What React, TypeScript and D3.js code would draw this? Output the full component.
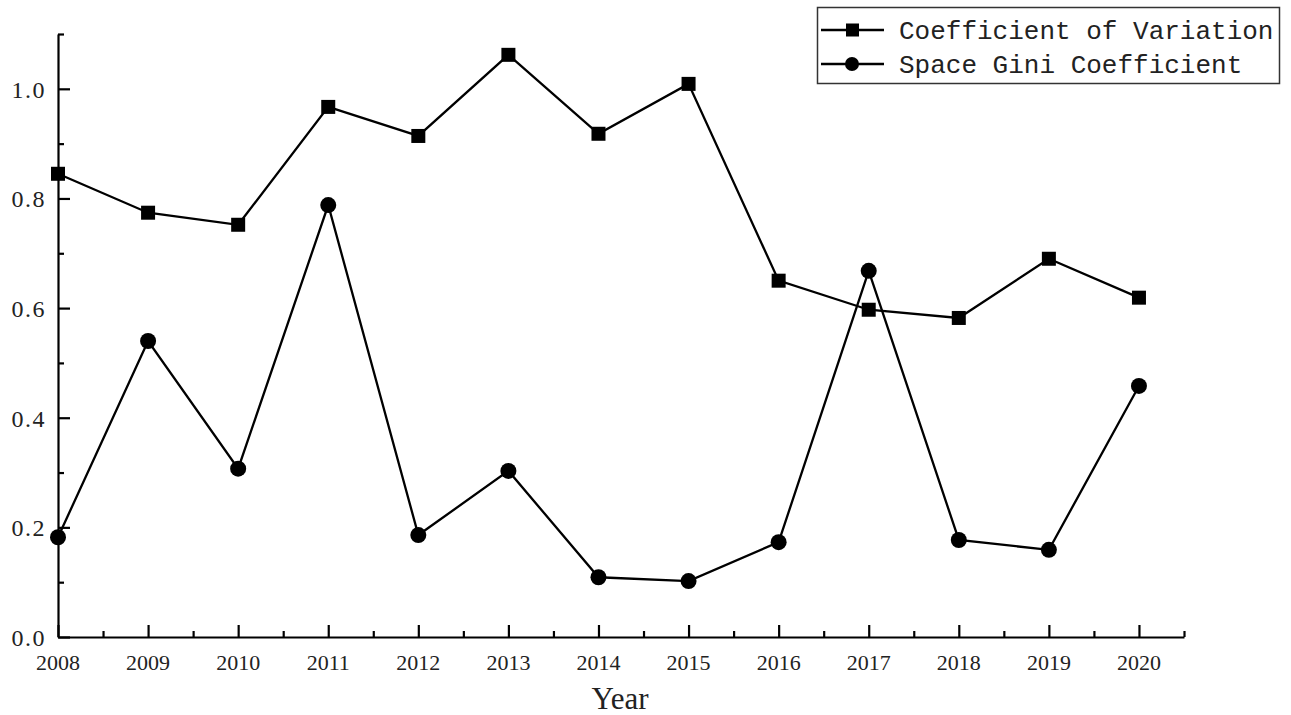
import * as React from 'react'
import { useEffect, useRef } from 'react'
import * as d3 from 'd3'

const years = [2008, 2009, 2010, 2011, 2012, 2013, 2014, 2015, 2016, 2017, 2018, 2019, 2020]
const cvValues = [0.845, 0.774, 0.752, 0.967, 0.914, 1.062, 0.918, 1.009, 0.650, 0.597, 0.582, 0.690, 0.619]
const giniValues = [0.182, 0.540, 0.307, 0.788, 0.186, 0.303, 0.109, 0.102, 0.173, 0.668, 0.177, 0.159, 0.458]
const yTicks = [0, 0.2, 0.4, 0.6, 0.8, 1.0]
const seriesNames = ['Coefficient of Variation', 'Space Gini Coefficient']

const width = 1291
const height = 715

const App = () => {
  const chartRef = useRef<SVGSVGElement>(null)

  useEffect(() => {
    const svg = d3.select(chartRef.current)
    svg.selectAll('*').remove()

    const xScale = d3.scaleLinear().domain([2008, 2020.5]).range([58, 1184])
    const yScale = d3.scaleLinear().domain([0, 1.1]).range([637, 34])

    const monoFont = '"Liberation Mono", "DejaVu Sans Mono", monospace'
    const serifFont = '"Liberation Serif", serif'

    // y axis, ticks inward
    const yAxis = d3.axisRight(yScale)
      .tickValues(d3.range(0, 1.1001, 0.1))
      .tickSize(0)
      .tickFormat(() => '')
    const yg = svg.append('g').attr('transform', 'translate(58,0)').call(yAxis)
    yg.select('.domain').attr('stroke', '#000').attr('stroke-width', 2.2)
    yg.selectAll('.tick line')
      .attr('stroke', '#000').attr('stroke-width', 2.2)
      .attr('x2', (d: any) => (Math.round(d * 10) % 2 === 0 ? 12 : 6))

    svg.append('g').selectAll('text')
      .data(yTicks)
      .enter()
      .append('text')
      .attr('x', 46)
      .attr('y', d => yScale(d) + 9)
      .attr('text-anchor', 'end')
      .style('font-family', serifFont)
      .style('font-size', '24px')
      .style('letter-spacing', '1.5px')
      .attr('fill', '#222')
      .text(d => d.toFixed(1))

    // x axis, ticks inward
    const xAxis = d3.axisTop(xScale)
      .tickValues(d3.range(2008, 2020.51, 0.5))
      .tickSize(0)
      .tickFormat(() => '')
    const xg = svg.append('g').attr('transform', 'translate(0,637)').call(xAxis)
    xg.select('.domain').attr('stroke', '#000').attr('stroke-width', 2.2)
    xg.selectAll('.tick line')
      .attr('stroke', '#000').attr('stroke-width', 2.2)
      .attr('y2', (d: any) => (Number.isInteger(d) ? -12 : -6))

    svg.append('g').selectAll('text')
      .data(years)
      .enter()
      .append('text')
      .attr('x', d => xScale(d))
      .attr('y', 670)
      .attr('text-anchor', 'middle')
      .style('font-family', serifFont)
      .style('font-size', '22px')
      .attr('fill', '#222')
      .text(d => d)

    svg.append('text')
      .attr('x', 620)
      .attr('y', 709)
      .attr('text-anchor', 'middle')
      .style('font-family', serifFont)
      .style('font-size', '31px')
      .attr('fill', '#222')
      .text('Year')

    const line = d3.line<number>()
      .x((d, i) => xScale(years[i]))
      .y(d => yScale(d))

    svg.append('path')
      .datum(cvValues)
      .attr('d', line)
      .attr('fill', 'none')
      .attr('stroke', '#000')
      .attr('stroke-width', 2.3)

    svg.append('path')
      .datum(giniValues)
      .attr('d', line)
      .attr('fill', 'none')
      .attr('stroke', '#000')
      .attr('stroke-width', 2.3)

    svg.append('g').selectAll('rect')
      .data(cvValues)
      .enter()
      .append('rect')
      .attr('x', (d, i) => xScale(years[i]) - 7)
      .attr('y', d => yScale(d) - 7)
      .attr('width', 14)
      .attr('height', 14)
      .attr('fill', '#000')

    svg.append('g').selectAll('circle')
      .data(giniValues)
      .enter()
      .append('circle')
      .attr('cx', (d, i) => xScale(years[i]))
      .attr('cy', d => yScale(d))
      .attr('r', 8)
      .attr('fill', '#000')

    // legend
    const legend = svg.append('g')
    legend.append('rect')
      .attr('x', 817.5).attr('y', 7.5)
      .attr('width', 462).attr('height', 76)
      .attr('fill', 'none')
      .attr('stroke', '#333')
      .attr('stroke-width', 1.5)

    seriesNames.forEach((name, i) => {
      const cy = 30 + i * 34
      legend.append('line')
        .attr('x1', 821).attr('x2', 884)
        .attr('y1', cy).attr('y2', cy)
        .attr('stroke', '#000').attr('stroke-width', 2.3)
      if (i === 0) {
        legend.append('rect')
          .attr('x', 846).attr('y', cy - 6.5)
          .attr('width', 13).attr('height', 13)
          .attr('fill', '#000')
      } else {
        legend.append('circle')
          .attr('cx', 852).attr('cy', cy).attr('r', 7)
          .attr('fill', '#000')
      }
      legend.append('text')
        .attr('x', 899)
        .attr('y', cy + 9)
        .style('font-family', monoFont)
        .style('font-size', '26px')
        .attr('fill', '#222')
        .text(name)
    })
  }, [])

  return (
    <svg ref={chartRef} width={width} height={height}
      style={{ position: 'absolute', left: 0, top: 0, background: '#fff' }} />
  )
}

export default App
